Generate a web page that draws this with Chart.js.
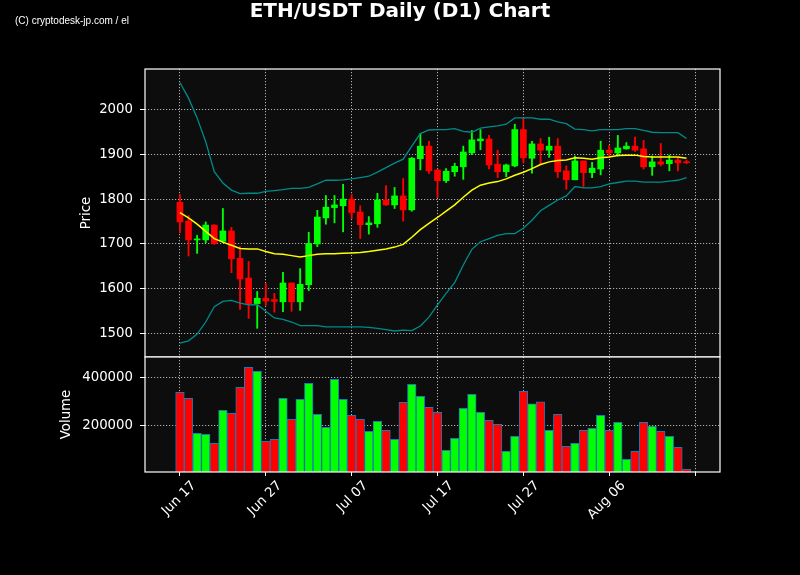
<!DOCTYPE html>
<html lang="en">
<head>
    <meta charset="UTF-8">
    <title>ETH/USDT Daily (D1) Chart</title>
    <script src="https://cdn.jsdelivr.net/npm/chart.js"></script>
    <style>
        html, body {
            margin: 0;
            padding: 0;
            background: #000;
        }
        .page {
            position: relative;
            width: 800px;
            height: 575px;
            overflow: hidden;
        }
        .panel {
            position: absolute;
            left: 0;
            top: 0;
            width: 800px;
            height: 575px;
        }
        .title {
            position: absolute;
            left: 0;
            top: 0;
            width: 800px;
            text-align: center;
            font: bold 20px/20px 'DejaVu Sans';
            color: #fff;
        }
        .credit {
            position: absolute;
            left: 15px;
            top: 16px;
            font: 10px/10px 'Liberation Sans';
            color: #fff;
        }
    </style>
</head>
<body>
<div class="page">
    <div class="panel"><canvas id="priceChart"></canvas></div>
    <div class="panel"><canvas id="volumeChart"></canvas></div>
    <div class="title">ETH/USDT Daily (D1) Chart</div>
    <div class="credit">(C) cryptodesk-jp.com / el</div>
</div>

<script>
    // day index of each tick (0 = Jun 17) and its label
    const dayTicks = [0, 10, 20, 30, 40, 50, 60];
    const dayLabels = ['Jun 17', 'Jun 27', 'Jul 07', 'Jul 17', 'Jul 27', 'Aug 06', ''];

    const opens = [1793, 1751, 1709, 1709, 1742, 1706, 1729, 1668, 1624, 1567,
                   1579, 1576, 1571, 1613, 1571, 1609, 1700, 1758, 1781, 1785,
                   1800, 1771, 1743, 1745, 1798, 1787, 1807, 1776, 1890, 1918,
                   1865, 1841, 1861, 1872, 1903, 1930, 1934, 1878, 1861, 1874,
                   1955, 1891, 1923, 1909, 1918, 1863, 1843, 1885, 1859, 1867,
                   1909, 1903, 1912, 1918, 1912, 1872, 1883, 1879, 1887, 1883];
    const highs = [1810, 1763, 1719, 1749, 1743, 1779, 1737, 1694, 1661, 1594,
                   1612, 1590, 1637, 1613, 1645, 1726, 1775, 1808, 1808, 1833,
                   1810, 1785, 1761, 1813, 1830, 1826, 1846, 1893, 1946, 1929,
                   1867, 1868, 1880, 1918, 1953, 1955, 1942, 1909, 1878, 1967,
                   1980, 1929, 1935, 1938, 1935, 1874, 1896, 1885, 1882, 1929,
                   1920, 1942, 1926, 1938, 1931, 1896, 1924, 1898, 1892, 1887];
    const lows = [1725, 1673, 1679, 1703, 1699, 1703, 1636, 1554, 1534, 1512,
                  1563, 1548, 1549, 1550, 1552, 1596, 1694, 1744, 1747, 1727,
                  1756, 1712, 1722, 1737, 1786, 1779, 1751, 1773, 1865, 1857,
                  1803, 1837, 1851, 1844, 1899, 1910, 1867, 1848, 1850, 1872,
                  1881, 1858, 1877, 1893, 1848, 1822, 1843, 1828, 1848, 1854,
                  1893, 1896, 1911, 1906, 1867, 1853, 1874, 1863, 1863, 1879];
    const closes = [1749, 1709, 1711, 1742, 1701, 1729, 1667, 1622, 1567, 1579,
                    1573, 1572, 1613, 1571, 1610, 1701, 1760, 1782, 1787, 1800,
                    1770, 1743, 1747, 1798, 1787, 1807, 1776, 1891, 1918, 1863,
                    1841, 1862, 1873, 1905, 1932, 1934, 1876, 1861, 1876, 1955,
                    1892, 1923, 1909, 1918, 1861, 1843, 1885, 1859, 1869, 1909,
                    1903, 1914, 1918, 1909, 1872, 1883, 1878, 1887, 1881, 1881];
    const volumes = [337500, 312500, 166700, 162500, 125000, 262500, 250000, 358300, 441700, 425000,
                     133300, 141700, 312500, 225000, 308300, 375000, 245800, 191700, 391700, 308300,
                     241700, 225000, 175000, 216700, 179200, 141700, 295800, 370800, 320800, 275000,
                     254200, 95800, 145800, 270800, 329200, 254200, 220800, 204200, 91700, 154200,
                     341700, 290000, 298400, 179200, 245800, 112500, 125000, 179200, 187500, 241700,
                     179200, 212500, 58300, 91700, 212500, 195800, 175000, 154200, 108300, 16700];

    // Bollinger bands as drawn on the chart
    const bbMid = [1770, 1758, 1744, 1728, 1712, 1704, 1697, 1690, 1689, 1689,
                   1683, 1678, 1677, 1674, 1671, 1674, 1677, 1678, 1678, 1679,
                   1680, 1681, 1683, 1686, 1689, 1693, 1699, 1715, 1732, 1746,
                   1759, 1773, 1787, 1804, 1820, 1831, 1836, 1839, 1845, 1853,
                   1860, 1868, 1877, 1883, 1886, 1887, 1892, 1891, 1889, 1892,
                   1894, 1897, 1898, 1898, 1895, 1894, 1894, 1894, 1894, 1891];
    const bbUpper = [2060, 2025, 1981, 1928, 1861, 1836, 1820, 1812, 1813, 1813,
                     1817, 1819, 1821, 1824, 1824, 1826, 1834, 1842, 1842, 1843,
                     1845, 1848, 1851, 1860, 1870, 1880, 1889, 1918, 1946, 1954,
                     1955, 1955, 1957, 1951, 1949, 1958, 1961, 1963, 1967, 1981,
                     1981, 1981, 1978, 1978, 1972, 1968, 1956, 1955, 1952, 1955,
                     1955, 1955, 1957, 1957, 1953, 1949, 1948, 1948, 1948, 1935];
    const bbLower = [1479, 1484, 1499, 1526, 1560, 1572, 1574, 1568, 1564, 1565,
                     1550, 1535, 1532, 1526, 1518, 1518, 1518, 1515, 1515, 1515,
                     1515, 1515, 1514, 1512, 1509, 1506, 1508, 1507, 1517, 1537,
                     1564, 1590, 1614, 1653, 1688, 1705, 1712, 1719, 1723, 1723,
                     1735, 1753, 1774, 1786, 1798, 1807, 1828, 1825, 1825, 1828,
                     1834, 1837, 1840, 1840, 1838, 1838, 1838, 1840, 1842, 1848];

    const priceTicks = [1500, 1600, 1700, 1800, 1900, 2000];
    const volumeTicks = [200000, 400000];

    const upColor = '#00ff00';
    const downColor = '#ff0000';
    const gridColor = '#b0b0b0';

    Chart.defaults.font.family = "'DejaVu Sans'";
    Chart.defaults.font.size = 13.3;
    Chart.defaults.color = '#ffffff';

    const days = opens.map((_, i) => i);
    const candleColors = days.map(i => closes[i] >= opens[i] ? upColor : downColor);

    // dark plot background + white frame round each panel
    const panelFrame = {
        id: 'panelFrame',
        beforeDraw(chart) {
            const a = chart.chartArea;
            const ctx = chart.ctx;
            ctx.save();
            ctx.fillStyle = '#0d0d0d';
            ctx.fillRect(a.left, a.top, a.right - a.left, a.bottom - a.top);
            ctx.restore();
        },
        afterDraw(chart) {
            const a = chart.chartArea;
            const ctx = chart.ctx;
            ctx.save();
            ctx.strokeStyle = '#ffffff';
            ctx.lineWidth = 1.2;
            ctx.strokeRect(a.left, a.top, a.right - a.left, a.bottom - a.top);
            ctx.restore();
        }
    };

    function xScale(showLabels) {
        return {
            type: 'linear',
            min: -4.07,
            max: 62.9,
            offset: false,
            afterBuildTicks: s => { s.ticks = dayTicks.map(v => ({ value: v })); },
            afterFit: s => {
                s.height = showLabels ? 103 : 0;
                s.paddingLeft = 0;
                s.paddingRight = 0;
            },
            ticks: {
                display: showLabels,
                autoSkip: false,
                minRotation: 45,
                maxRotation: 45,
                labelOffset: 14,
                padding: 2,
                callback: (v, i) => dayLabels[i]
            },
            grid: {
                offset: false,
                color: gridColor,
                drawTicks: showLabels,
                tickLength: 4,
                tickColor: '#ffffff',
                tickBorderDash: []
            },
            border: { display: false, dash: [1.2, 1.8] }
        };
    }

    function yScale(min, max, ticks, title, titleOffset) {
        return {
            min: min,
            max: max,
            afterBuildTicks: s => { s.ticks = ticks.map(v => ({ value: v })); },
            afterFit: s => {
                s.width = 145;
                s.paddingTop = 0;
                s.paddingBottom = 0;
            },
            ticks: { padding: 7, callback: v => String(v) },
            grid: {
                color: gridColor,
                tickLength: 5,
                tickColor: '#ffffff',
                tickBorderDash: []
            },
            border: { display: false, dash: [1.2, 1.8] },
            title: {
                display: true,
                text: title,
                padding: { top: titleOffset, bottom: 0 }
            }
        };
    }

    function lineSet(values, color, width) {
        return {
            type: 'line',
            data: days.map(i => ({ x: i, y: values[i] })),
            borderColor: color,
            borderWidth: width,
            pointRadius: 0,
            tension: 0,
            order: 0
        };
    }

    new Chart(document.getElementById('priceChart'), {
        type: 'bar',
        data: {
            datasets: [
                lineSet(bbUpper, '#008b8b', 1.3),
                lineSet(bbLower, '#008b8b', 1.3),
                lineSet(bbMid, '#ffff00', 1.5),
                {
                    data: days.map(i => ({ x: i, y: [lows[i], highs[i]] })),
                    backgroundColor: candleColors,
                    barThickness: 1.2,
                    grouped: false,
                    order: 2
                },
                {
                    data: days.map(i => ({ x: i, y: [opens[i], closes[i]] })),
                    backgroundColor: candleColors,
                    barThickness: 6,
                    minBarLength: 1,
                    grouped: false,
                    order: 1
                }
            ]
        },
        options: {
            responsive: true,
            maintainAspectRatio: false,
            animation: false,
            layout: { padding: { top: 69, right: 80, bottom: 218, left: 0 } },
            scales: {
                x: xScale(false),
                y: yScale(1448, 2090, priceTicks, 'Price', 79)
            },
            plugins: {
                legend: { display: false },
                tooltip: { enabled: false }
            }
        },
        plugins: [panelFrame]
    });

    new Chart(document.getElementById('volumeChart'), {
        type: 'bar',
        data: {
            datasets: [{
                data: days.map(i => ({ x: i, y: volumes[i] })),
                backgroundColor: candleColors,
                borderColor: '#1f77b4',
                borderWidth: 1,
                barThickness: 8.6,
                grouped: false
            }]
        },
        options: {
            responsive: true,
            maintainAspectRatio: false,
            animation: false,
            layout: { padding: { top: 357, right: 80, bottom: 0, left: 0 } },
            scales: {
                x: xScale(true),
                y: yScale(5000, 485000, volumeTicks, 'Volume', 59)
            },
            plugins: {
                legend: { display: false },
                tooltip: { enabled: false }
            }
        },
        plugins: [panelFrame]
    });
</script>
</body>
</html>
